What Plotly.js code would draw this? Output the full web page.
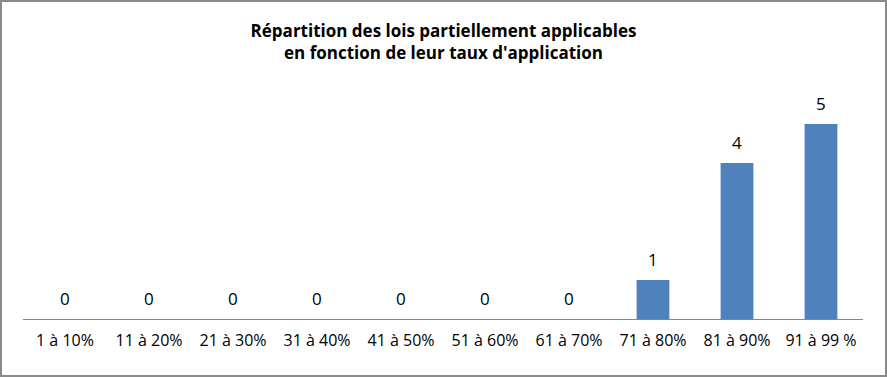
<!DOCTYPE html>
<html>
<head>
<meta charset="utf-8">
<script src="https://cdn.plot.ly/plotly-3.0.1.min.js"></script>
<style>
html,body{margin:0;padding:0;background:#fff;}
#wrap{width:887px;height:377px;box-sizing:border-box;border:2px solid #8a8a8a;overflow:hidden;}
#chart{width:883px;height:373px;}
</style>
</head>
<body>
<div id="wrap"><div id="chart"></div></div>
<script>
const categories = ["1 à 10%","11 à 20%","21 à 30%","31 à 40%","41 à 50%","51 à 60%","61 à 70%","71 à 80%","81 à 90%","91 à 99 %"];
const values = [0,0,0,0,0,0,0,1,4,5];
const titleText = "Répartition des lois partiellement applicables<br>en fonction de leur taux d'application";

const FONT = "'Open Sans', Lato, sans-serif";

const trace = {
  type: "bar",
  x: categories,
  y: values,
  marker: {color: "#4F81BD"},
  width: 0.39,
  hoverinfo: "none"
};

const annotations = categories.map((c, i) => ({
  x: c, y: values[i], xref: "x", yref: "y",
  text: String(values[i]), showarrow: false,
  yshift: 21, font: {family: FONT, size: 17, color: "#000"}
}));

const layout = {
  width: 883, height: 373,
  margin: {l: 21, r: 22, t: 83, b: 56},
  paper_bgcolor: "#fff", plot_bgcolor: "#fff",
  showlegend: false,
  title: {
    text: titleText,
    font: {family: FONT, size: 17, color: "#000", weight: "bold"},
    x: 0.5, xanchor: "center",
    y: 1 - 35/373, yanchor: "middle", yref: "container"
  },
  xaxis: {
    type: "category",
    showline: true, linecolor: "#868686", linewidth: 1,
    ticks: "", showgrid: false, zeroline: false,
    tickfont: {family: FONT, size: 16, color: "#000"},
    ticklabelstandoff: 7,
    fixedrange: true
  },
  yaxis: {
    range: [0, 6],
    visible: false, showgrid: false, zeroline: false,
    fixedrange: true
  },
  annotations: annotations
};

Plotly.newPlot("chart", [trace], layout, {displayModeBar: false, staticPlot: true});
</script>
</body>
</html>
